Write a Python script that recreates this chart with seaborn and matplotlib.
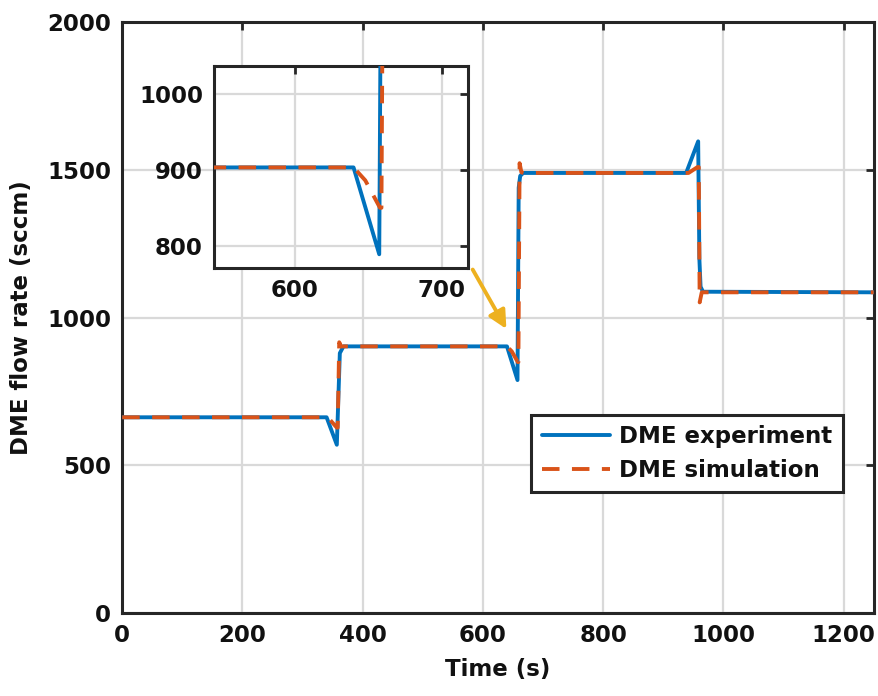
import numpy as np
import pandas as pd
import matplotlib
matplotlib.use("Agg")
import matplotlib.pyplot as plt
import seaborn as sns

# ---- data ----
t_exp = [0, 340, 357, 362, 368, 640, 657.5, 659.5, 662, 667, 938, 958, 960, 962, 966, 1250]
y_exp = [663, 663, 570, 880, 903, 903, 789, 1440, 1480, 1490, 1490, 1597, 1200, 1105, 1088, 1086]

t_sim = [0, 342, 357, 358.5, 361, 364, 640, 648, 658, 659, 661, 664, 668, 942, 957, 959, 960.5, 964, 1250]
y_sim = [663, 663, 628, 628, 917, 903, 903, 886, 850, 850, 1523, 1492, 1490, 1490, 1510, 1510, 1052, 1086, 1086]

x_ticks = [0, 200, 400, 600, 800, 1000, 1200]
y_ticks = [0, 500, 1000, 1500, 2000]
inset_x_ticks = [600, 700]
inset_y_ticks = [800, 900, 1000]

label_exp = "DME experiment"
label_sim = "DME simulation"
x_label = "Time (s)"
y_label = "DME flow rate (sccm)"

# ---- style ----
sns.set_theme(style="white")
plt.rcParams["font.family"] = ["DejaVu Sans"]
plt.rcParams["font.weight"] = "bold"
plt.rcParams["axes.labelweight"] = "bold"

BLUE = "#0072BD"
ORANGE = "#D95319"
GOLD = "#EDB120"
DARK = "#262626"
FS = 16.5

fig = plt.figure(figsize=(8.79, 6.96), dpi=100)
ax = fig.add_axes([0.139, 0.119, 0.855, 0.849])


def style_axes(a):
    for s in a.spines.values():
        s.set_linewidth(2.2)
        s.set_color(DARK)
        s.set_visible(True)
    a.grid(True, color="#D9D9D9", linewidth=1.6)
    a.set_axisbelow(True)
    a.tick_params(direction="in", length=6, width=2, colors=DARK,
                  top=True, right=True, labelsize=FS, pad=8)
    for lab in a.get_xticklabels() + a.get_yticklabels():
        lab.set_fontweight("bold")
        lab.set_color("#111111")


def draw(a, lw):
    sns.lineplot(x=t_exp, y=y_exp, ax=a, color=BLUE, linewidth=lw,
                 estimator=None, sort=False, label=label_exp, zorder=3)
    sns.lineplot(x=t_sim, y=y_sim, ax=a, color=ORANGE, linewidth=lw,
                 estimator=None, sort=False, label=label_sim, zorder=4)
    a.lines[1].set_dashes([4.5, 3.2])


draw(ax, 2.8)
ax.set_xlim(0, 1250)
ax.set_ylim(0, 2000)
ax.set_xticks(x_ticks)
ax.set_yticks(y_ticks)
ax.set_xlabel(x_label, fontsize=FS, fontweight="bold", labelpad=8, color="#111111")
ax.set_ylabel(y_label, fontsize=FS, fontweight="bold", labelpad=10, color="#111111")
style_axes(ax)

leg = ax.legend(loc="lower right", bbox_to_anchor=(0.959, 0.205), borderaxespad=0,
                fontsize=FS, frameon=True, fancybox=False, framealpha=1,
                edgecolor=DARK, handlelength=3.0, handletextpad=0.4,
                borderpad=0.45, labelspacing=0.45)
leg.get_frame().set_linewidth(2.2)
for txt in leg.get_texts():
    txt.set_fontweight("bold")
    txt.set_color("#111111")

# arrow pointing to the second step
ax.annotate("", xy=(639, 962), xytext=(583, 1163),
            arrowprops=dict(arrowstyle="-|>,head_length=0.9,head_width=0.45",
                            color=GOLD, lw=2.8, shrinkA=0, shrinkB=0), zorder=5)

# inset
axin = fig.add_axes([0.2435, 0.615, 0.289, 0.290])
draw(axin, 2.8)
axin.set_xlim(545, 718)
axin.set_ylim(771, 1036)
axin.set_xticks(inset_x_ticks)
axin.set_yticks(inset_y_ticks)
axin.set_xlabel("")
axin.set_ylabel("")
if axin.get_legend() is not None:
    axin.get_legend().remove()
style_axes(axin)
axin.set_facecolor("white")

fig.savefig("out.png", dpi=100)
